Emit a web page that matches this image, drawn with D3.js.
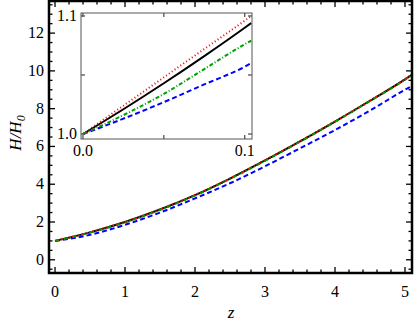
<!DOCTYPE html>
<html>
<head>
<meta charset="utf-8">
<script src="https://cdn.jsdelivr.net/npm/d3@7"></script>
<style>
  body { margin: 0; background: #fff; }
  svg text { font-family: "Liberation Serif", "DejaVu Serif", serif; }
</style>
</head>
<body>
<svg width="415" height="324"></svg>
<script>
// main panel samples
var zMain = [0, 0.5, 1, 1.5, 2, 2.5, 3, 3.5, 4, 4.5, 5, 5.1];
var blackMain = [1.0, 1.45, 2.0, 2.66, 3.42, 4.3, 5.26, 6.27, 7.32, 8.42, 9.55, 9.8];
var redMain   = [1.0, 1.46, 2.01, 2.67, 3.43, 4.31, 5.27, 6.28, 7.33, 8.43, 9.56, 9.81];
var greenMain = [1.0, 1.44, 1.98, 2.64, 3.4, 4.28, 5.24, 6.25, 7.3, 8.4, 9.53, 9.78];
var blueMain  = [1.0, 1.32, 1.85, 2.5, 3.25, 4.05, 4.95, 5.9, 6.87, 7.9, 9.0, 9.2];

// inset samples (zoom near z = 0)
var zInset = [0, 0.025, 0.05, 0.075, 0.1, 0.104];
var blackInset = [1.0, 1.021, 1.043, 1.066, 1.090, 1.094];
var redInset   = [1.0, 1.024, 1.048, 1.072, 1.096, 1.100];
var greenInset = [1.0, 1.016, 1.034, 1.055, 1.076, 1.079];
var blueInset  = [1.0, 1.013, 1.027, 1.042, 1.057, 1.060];

var xTicks = [0, 1, 2, 3, 4, 5];
var yTicks = [0, 2, 4, 6, 8, 10, 12];

// drawn in this order: black underneath, dashed/dotted on top
var styles = [
  { color: "#000000", dash: null },
  { color: "#0000ff", dash: "5,3" },
  { color: "#00a000", dash: "4,2,1,2" },
  { color: "#ff0000", dash: "1,2.5" }
];
var mainSeries = [blackMain, blueMain, greenMain, redMain];
var insetSeries = [blackInset, blueInset, greenInset, redInset];

var svg = d3.select("svg");

var x = d3.scaleLinear().domain([-0.086, 5.1]).range([49, 412]);
var y = d3.scaleLinear().domain([-0.7, 13.7]).range([273, 1]);

function drawFrame(g, xs, ys, xMaj, xMin, yMaj, yMin, major, minor, col, w) {
  var x0 = xs.range()[0], x1 = xs.range()[1], y0 = ys.range()[0], y1 = ys.range()[1];
  xMin.forEach(function(t) {
    var len = xMaj.indexOf(t) >= 0 ? major : minor;
    g.append("line").attr("x1", xs(t)).attr("x2", xs(t)).attr("y1", y0).attr("y2", y0 - len)
      .attr("stroke", col).attr("stroke-width", 1.3);
    g.append("line").attr("x1", xs(t)).attr("x2", xs(t)).attr("y1", y1).attr("y2", y1 + len)
      .attr("stroke", col).attr("stroke-width", 1.3);
  });
  yMin.forEach(function(t) {
    var len = yMaj.indexOf(t) >= 0 ? major : minor;
    g.append("line").attr("y1", ys(t)).attr("y2", ys(t)).attr("x1", x0).attr("x2", x0 + len)
      .attr("stroke", col).attr("stroke-width", 1.3);
    g.append("line").attr("y1", ys(t)).attr("y2", ys(t)).attr("x1", x1).attr("x2", x1 - len)
      .attr("stroke", col).attr("stroke-width", 1.3);
  });
  g.append("rect").attr("x", x0).attr("y", y1).attr("width", x1 - x0).attr("height", y0 - y1)
    .attr("fill", "none").attr("stroke", col).attr("stroke-width", w);
}

function drawCurves(g, xs, ys, zs, series, w) {
  var line = d3.line().x(function(d) { return xs(d[0]); }).y(function(d) { return ys(d[1]); })
    .curve(d3.curveMonotoneX);
  series.forEach(function(vals, i) {
    g.append("path")
      .datum(zs.map(function(z, j) { return [z, vals[j]]; }))
      .attr("d", line)
      .attr("fill", "none")
      .attr("stroke", styles[i].color)
      .attr("stroke-width", w)
      .attr("stroke-dasharray", styles[i].dash);
  });
}

// main panel
var main = svg.append("g");
main.append("clipPath").attr("id", "clipMain").append("rect")
  .attr("x", 49).attr("y", 1).attr("width", 363).attr("height", 272);
drawCurves(main.append("g").attr("clip-path", "url(#clipMain)"), x, y, zMain, mainSeries, 2);

var xMinor = d3.range(0, 5.11, 0.2).map(function(v) { return Math.round(v * 10) / 10; });
var yMinor = d3.range(-0.5, 13.6, 0.5);
drawFrame(main, x, y, xTicks, xMinor, yTicks, yMinor, 6, 3.5, "#000", 2.5);

main.selectAll(".xl").data(xTicks).enter().append("text")
  .attr("x", function(d) { return x(d); }).attr("y", 297)
  .attr("text-anchor", "middle").attr("font-size", 16).text(function(d) { return d; });
main.selectAll(".yl").data(yTicks).enter().append("text")
  .attr("x", 44).attr("y", function(d) { return y(d) + 5; })
  .attr("text-anchor", "end").attr("font-size", 16).text(function(d) { return d; });

main.append("text").attr("x", 231).attr("y", 318).attr("text-anchor", "middle")
  .attr("font-size", 17).attr("font-style", "italic").text("z");
var yl = main.append("text").attr("transform", "translate(21,133) rotate(-90)")
  .attr("text-anchor", "middle").attr("font-size", 17).attr("font-style", "italic");
yl.append("tspan").text("H/H");
yl.append("tspan").attr("font-size", 12).attr("dy", 4).text("0");

// inset
var xi = d3.scaleLinear().domain([-0.0012, 0.1045]).range([81, 252]);
var yi = d3.scaleLinear().domain([0.9958, 1.1025]).range([139, 13]);
var inset = svg.append("g");
inset.append("rect").attr("x", 81).attr("y", 13).attr("width", 171).attr("height", 126).attr("fill", "#fff");
inset.append("clipPath").attr("id", "clipInset").append("rect")
  .attr("x", 81).attr("y", 13).attr("width", 171).attr("height", 126);
drawCurves(inset.append("g").attr("clip-path", "url(#clipInset)"), xi, yi, zInset, insetSeries, 2);
drawFrame(inset, xi, yi, [0, 0.05, 0.1], [0, 0.05, 0.1], [1.0, 1.05, 1.1], [1.0, 1.05, 1.1], 4, 4, "#555", 1);

inset.selectAll(".xil").data([0, 0.1]).enter().append("text")
  .attr("x", function(d) { return xi(d); }).attr("y", 156)
  .attr("text-anchor", "middle").attr("font-size", 16).text(function(d) { return d.toFixed(1); });
inset.selectAll(".yil").data([1.0, 1.1]).enter().append("text")
  .attr("x", 77).attr("y", function(d) { return yi(d) + 5; })
  .attr("text-anchor", "end").attr("font-size", 16).text(function(d) { return d.toFixed(1); });
</script>
</body>
</html>
